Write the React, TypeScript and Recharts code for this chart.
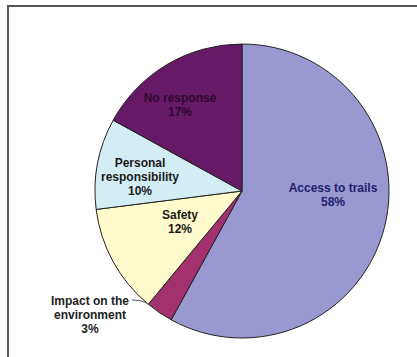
import React from 'react';
import { PieChart, Pie, Cell } from 'recharts';

const categories = ['Access to trails', 'Impact on the environment', 'Safety', 'Personal responsibility', 'No response'];
const shares = [58, 3, 12, 10, 17];
const labelLines = [
	['Access to trails', '58%'],
	['Impact on the', 'environment', '3%'],
	['Safety', '12%'],
	['Personal', 'responsibility', '10%'],
	['No response', '17%'],
];

const colors = ['#9a98d0', '#a3306f', '#fffbcc', '#d2eef4', '#661a66'];
const textColors = ['#1f1f6f', '#222222', '#1a1a1a', '#1a1a1a', '#2e0a30'];
// label centres relative to pie centre
const labelOffsets = [
	[91, 4],
	[-152, 124],
	[-62, 31],
	[-102, -14],
	[-62, -86],
];

const data = categories.map((name, i) => ({ name, value: shares[i] }));

const RADIAN = Math.PI / 180;

const renderLabel = (props) => {
	const { cx, cy, index, midAngle, outerRadius } = props;
	const [dx, dy] = labelOffsets[index];
	const lines = labelLines[index];
	const lh = 14;
	const x = cx + dx;
	const y0 = cy + dy - ((lines.length - 1) * lh) / 2;
	let leader = null;
	if (index === 1) {
		const px = cx + outerRadius * Math.cos(-midAngle * RADIAN);
		const py = cy + outerRadius * Math.sin(-midAngle * RADIAN);
		const sx = x + 42;
		const sy = y0 - 1;
		leader = <path d={`M${sx},${sy} Q${sx + 14},${sy - 1} ${px},${py}`} stroke="#555" strokeWidth={1} fill="none" />;
	}
	return (
		<g>
			{leader}
			<text
				x={x}
				y={y0}
				textAnchor="middle"
				dominantBaseline="central"
				fontFamily="Liberation Sans, Arial, sans-serif"
				fontWeight="bold"
				fontSize={12}
				fill={textColors[index]}
			>
				{lines.map((l, i) => (
					<tspan key={i} x={x} y={y0 + i * lh}>
						{l}
					</tspan>
				))}
			</text>
		</g>
	);
};

const App = () => {
	return (
		<div style={{ position: 'absolute', left: 0, top: 0, width: 417, height: 357, background: '#fff', overflow: 'hidden' }}>
			<div
				style={{
					position: 'absolute',
					left: 7,
					top: 5,
					width: 430,
					height: 370,
					borderTop: '2px solid #555',
					borderLeft: '2px solid #555',
				}}
			/>
			<div style={{ position: 'absolute', left: 0, top: 0 }}>
				<PieChart width={417} height={357} margin={{ top: 0, right: 0, bottom: 0, left: 0 }}>
					<Pie
						data={data}
						dataKey="value"
						nameKey="name"
						cx={242}
						cy={191}
						outerRadius={147}
						startAngle={90}
						endAngle={-270}
						stroke="#222"
						strokeWidth={1}
						label={renderLabel}
						labelLine={false}
						isAnimationActive={false}
					>
						{data.map((d, i) => (
							<Cell key={d.name} fill={colors[i]} />
						))}
					</Pie>
				</PieChart>
			</div>
		</div>
	);
};

export default App;
